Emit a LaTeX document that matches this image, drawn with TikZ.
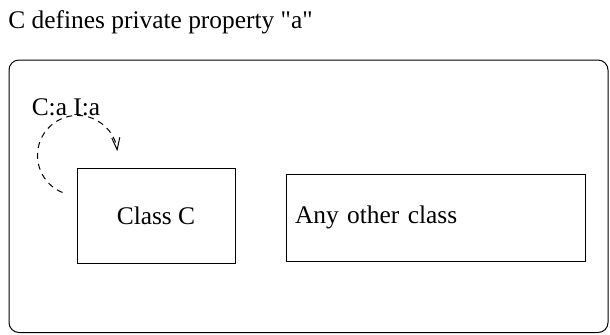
\documentclass[tikz,border=0pt]{standalone}
\usepackage{fontspec}
\setmainfont{Liberation Serif}[Ligatures=TeXOff]
\usetikzlibrary{arrows.meta, positioning}

\begin{document}
\begin{tikzpicture}[x=0.5pt, y=-0.5pt, font=\fontsize{12.7pt}{15pt}\selectfont,
    classbox/.style = {draw, line width=0.5pt, rectangle, minimum height=43.5pt},
    loopline/.style = {dashed, dash pattern=on 3pt off 2.5pt, line width=0.5pt}]
                \useasboundingbox (0,0) rectangle (610,334);
                \draw[line width=0.5pt, rounded corners=5pt] (9,60) rectangle (608,332.5);

                \node (title) [anchor=base west, inner sep=0pt] at (8,28) {C defines private property "a"};
                \node (classC) [classbox, minimum width=79pt, minimum height=47.5pt] at (156,215.5) {Class C};
                \node (other) [classbox, text width=140.5pt, inner xsep=4.5pt, align=left] at (435.5,217.5) {Any other class};
                \node (lbl) [inner sep=0pt] at (66,107) {C:a I:a};

                \coordinate (loopstart) at ([shift={(-14,25)}]classC.north west);

                \draw[loopline, -{Straight Barb[length=6pt, width=4pt]}]
                (loopstart) arc (112:354:40);
\end{tikzpicture}
\end{document}
